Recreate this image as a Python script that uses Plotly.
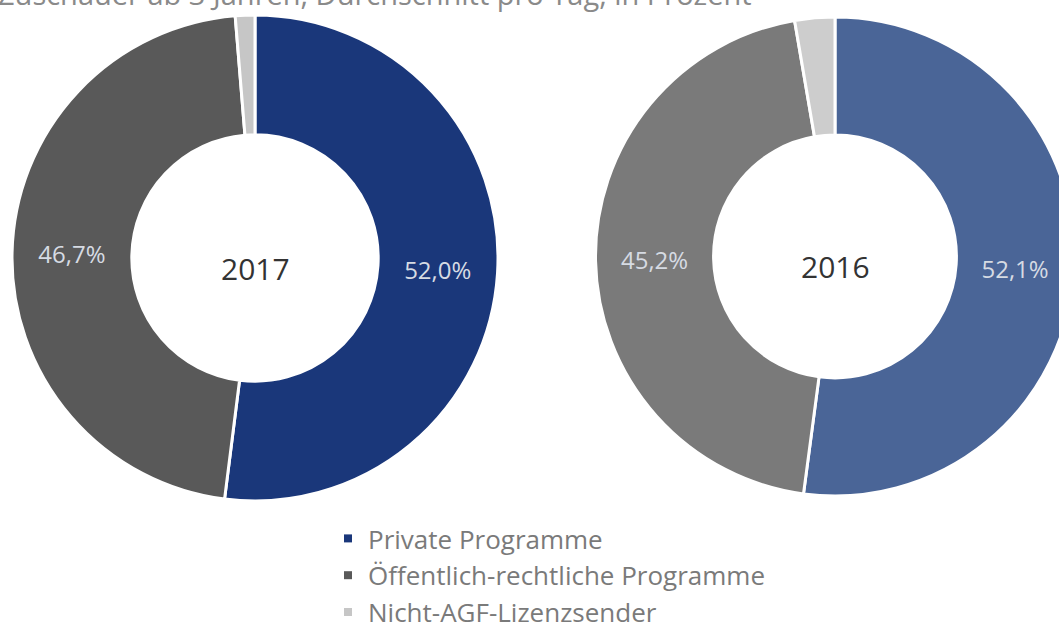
import plotly.graph_objects as go

categories = ["Private Programme", "Öffentlich-rechtliche Programme", "Nicht-AGF-Lizenzsender"]
years = ["2017", "2016"]
values_2017 = [52.0, 46.7, 1.3]
values_2016 = [52.1, 45.2, 2.7]
colors_2017 = ["#1a377a", "#595959", "#c6c6c6"]
colors_2016 = ["#4a6597", "#7a7a7a", "#cdcdcd"]
legend_colors = ["#1a377a", "#595959", "#c6c6c6"]
subtitle = "Zuschauer ab 3 Jahren, Durchschnitt pro Tag, in Prozent"

W, H = 1080, 624
FONT = "Open Sans"


def fmt(vals, min_show=5.0):
    return [(f"{v:.1f}".replace(".", ",") + "%") if v >= min_show else "" for v in vals]


def dom(cx, cy, r):
    return dict(x=[(cx - r) / W, (cx + r) / W], y=[(H - cy - r) / H, (H - cy + r) / H])


fig = go.Figure()
for year, vals, cols, (cx, cy, r) in [
    (years[0], values_2017, colors_2017, (255, 258, 243)),
    (years[1], values_2016, colors_2016, (835, 256.5, 239.5)),
]:
    d = dom(cx, cy, r)
    fig.add_trace(go.Pie(
        labels=categories,
        values=vals,
        text=fmt(vals),
        textinfo="text",
        textposition="inside",
        insidetextorientation="horizontal",
        textfont=dict(family=FONT, size=24, color="#d6dbe3"),
        hole=0.507,
        sort=False,
        direction="clockwise",
        rotation=0,
        marker=dict(colors=cols, line=dict(color="white", width=3)),
        domain=d,
        showlegend=False,
        hoverinfo="label+percent",
    ))
    fig.add_annotation(
        text=year, xref="paper", yref="paper",
        x=sum(d["x"]) / 2, y=sum(d["y"]) / 2, yshift=-10,
        xanchor="center", yanchor="middle", showarrow=False,
        font=dict(family=FONT, size=30, color="#333333"),
    )

for name, col in zip(categories, legend_colors):
    fig.add_trace(go.Scatter(
        x=[None], y=[None], mode="markers", name=name,
        marker=dict(symbol="square", size=8, color=col),
        showlegend=True,
    ))

fig.add_annotation(
    text=subtitle, xref="paper", yref="paper", x=0, y=1,
    xanchor="left", yanchor="bottom", xshift=-4, yshift=-15,
    showarrow=False, font=dict(family=FONT, size=29, color="#8a8a8a"),
)

fig.update_layout(
    width=W, height=H,
    margin=dict(l=0, r=0, t=0, b=0, autoexpand=False),
    paper_bgcolor="white", plot_bgcolor="white",
    xaxis=dict(visible=False), yaxis=dict(visible=False),
    legend=dict(
        x=328 / W, y=(H - 515) / H, xanchor="left", yanchor="top",
        font=dict(family=FONT, size=26, color="#7a7a7a"),
        bgcolor="rgba(0,0,0,0)", itemwidth=30, tracegroupgap=0,
    ),
    showlegend=True,
)

fig.write_html(
    "out.html",
    config={"displayModeBar": False},
    post_script="document.body.style.margin='0';document.body.style.overflow='hidden';document.documentElement.style.overflow='hidden';",
)
